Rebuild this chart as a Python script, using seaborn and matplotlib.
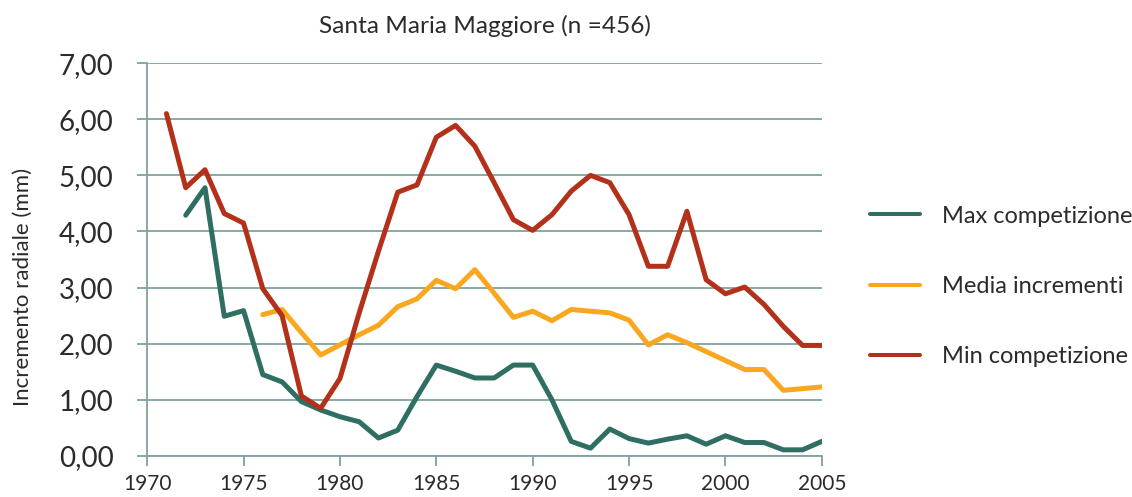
import numpy as np
import pandas as pd
import matplotlib
matplotlib.use("Agg")
import matplotlib.pyplot as plt
import seaborn as sns
from matplotlib.ticker import FuncFormatter, MultipleLocator

# Annual radial increment (mm), Santa Maria Maggiore
anni_min = list(range(1971, 2006))
min_competizione = [6.10, 4.78, 5.10, 4.32, 4.15, 2.98, 2.50, 1.07, 0.85, 1.38,
                    2.55, 3.65, 4.70, 4.83, 5.68, 5.89, 5.52, 4.87, 4.21, 4.02,
                    4.30, 4.72, 5.00, 4.87, 4.30, 3.38, 3.38, 4.36, 3.14, 2.89,
                    3.01, 2.70, 2.31, 1.97, 1.97]

anni_media = list(range(1976, 2006))
media_incrementi = [2.52, 2.61, 2.20, 1.80, 1.98, 2.16, 2.33, 2.66, 2.80, 3.13,
                    2.98, 3.32, 2.90, 2.47, 2.58, 2.41, 2.61, 2.58, 2.55, 2.42,
                    1.98, 2.16, 2.02, 1.86, 1.70, 1.54, 1.54, 1.17, 1.20, 1.23]

anni_max = list(range(1972, 2006))
max_competizione = [4.29, 4.78, 2.49, 2.59, 1.45, 1.32, 0.97, 0.82, 0.70, 0.61,
                    0.32, 0.46, 1.06, 1.62, 1.51, 1.39, 1.39, 1.62, 1.62, 1.00,
                    0.26, 0.14, 0.48, 0.31, 0.23, 0.30, 0.36, 0.21, 0.36, 0.24,
                    0.24, 0.11, 0.11, 0.26]

serie = ["Max competizione", "Media incrementi", "Min competizione"]
colori = ["#2f6e62", "#f8a71e", "#b3301b"]

df = pd.concat([
    pd.DataFrame({"Anno": anni_max, "Incremento": max_competizione, "Serie": serie[0]}),
    pd.DataFrame({"Anno": anni_media, "Incremento": media_incrementi, "Serie": serie[1]}),
    pd.DataFrame({"Anno": anni_min, "Incremento": min_competizione, "Serie": serie[2]}),
], ignore_index=True)

sns.set_theme(style="white")
plt.rcParams["font.family"] = ["Lato", "DejaVu Sans"]

grid_col = "#7fa39f"
text_col = "#2b2b2b"

fig = plt.figure(figsize=(11.32, 4.97), dpi=100)
ax = fig.add_axes([0.130, 0.0825, 0.596, 0.7905])

sns.lineplot(data=df, x="Anno", y="Incremento", hue="Serie", hue_order=serie,
             palette=colori, linewidth=3.6, ax=ax, legend=False, zorder=3)

ax.set_xlim(1970, 2005)
ax.set_ylim(0, 7)
ax.xaxis.set_major_locator(MultipleLocator(5))
ax.yaxis.set_major_locator(MultipleLocator(1))
ax.yaxis.set_major_formatter(FuncFormatter(lambda v, p: f"{v:.2f}".replace(".", ",")))

ax.grid(axis="y", color=grid_col, linewidth=1.3, zorder=0)
ax.grid(axis="x", visible=False)
for s in ["top", "right"]:
    ax.spines[s].set_visible(False)
for s in ["left", "bottom"]:
    ax.spines[s].set_color(grid_col)
    ax.spines[s].set_linewidth(1.3)

ax.tick_params(axis="y", direction="out", length=7.2, width=1.3, color=grid_col,
               labelsize=20, labelcolor=text_col, pad=17, left=True)
ax.tick_params(axis="x", direction="out", length=7.2, width=1.3, color=grid_col,
               labelsize=15, labelcolor=text_col, pad=6, bottom=True)

ax.set_xlabel("")
ax.set_ylabel("Incremento radiale (mm)", fontsize=16, color=text_col)
ax.yaxis.set_label_coords(-0.169, 0.43)
ax.set_title("Santa Maria Maggiore (n =456)", fontsize=17.6, color=text_col, pad=22)

# Legend drawn as line handles beside the plot
handles = [plt.Line2D([0], [0], color=c, linewidth=2.9) for c in colori]
leg = fig.legend(handles, serie, loc="center left", bbox_to_anchor=(0.7686, 0.424),
                 frameon=False, fontsize=17, handlelength=2.1, handletextpad=0.93,
                 labelspacing=2.08, borderpad=0, borderaxespad=0)
for t in leg.get_texts():
    t.set_color(text_col)

fig.savefig("out.png", dpi=100)
